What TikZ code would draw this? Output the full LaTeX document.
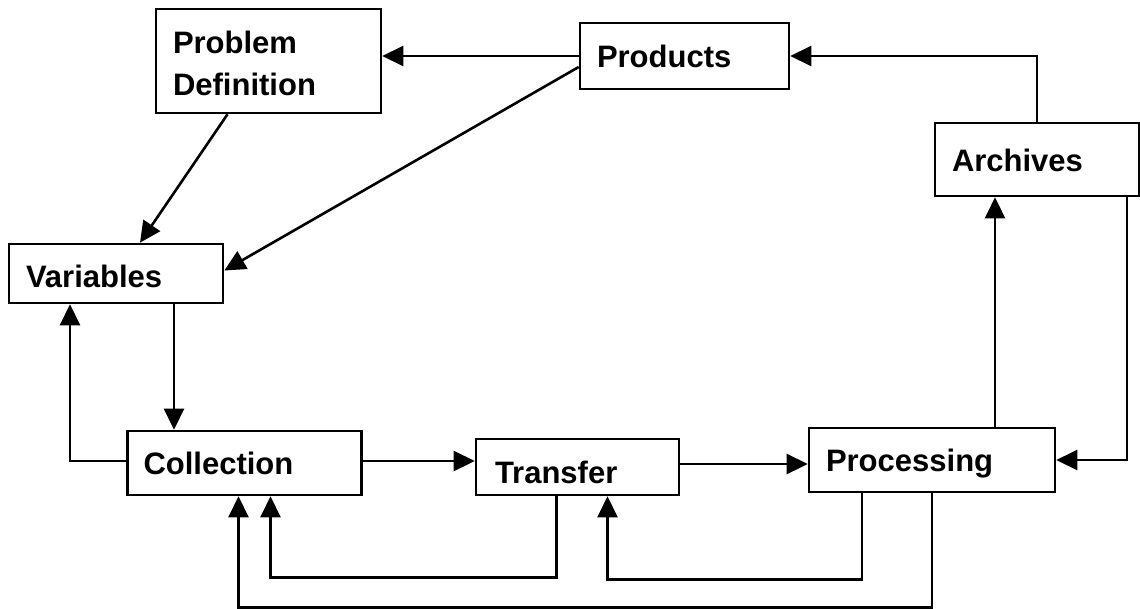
\documentclass[tikz,border=0pt]{standalone}
\usepackage{fontspec}
\setmainfont{Liberation Sans}
\usetikzlibrary{arrows.meta}

\begin{document}
\begin{tikzpicture}[x=1pt,y=-1pt,line width=2.6pt,
    box/.style={draw,rectangle,align=left,inner xsep=17pt,inner ysep=0pt,
        text height=23pt,text depth=0pt,font=\fontsize{31}{42}\selectfont\bfseries},
    flow/.style={-{Triangle[length=21pt,width=20pt]}}]
    \useasboundingbox (0,0) rectangle (1140,608);

    \begin{scope}[every node/.style={box}]
        \node (pd)[text width=191pt,minimum height=104pt,text depth=39pt] at (268.5,61) {Problem\\Definition};
        \node (prod)[text width=175pt,minimum height=66pt] at (684.5,56) {Products};
        \node (arch)[text width=170pt,minimum height=73pt] at (1037,159.5) {Archives};
        \node (var)[text width=180pt,minimum height=59pt,text height=27pt] at (116,273.5) {Variables};
        \node (coll)[text width=202pt,minimum height=64pt,inner xsep=16pt] at (244.5,463) {Collection};
        \node (tran)[text width=165pt,minimum height=56pt,inner xsep=19pt,text height=32pt] at (577.5,467) {Transfer};
        \node (proc)[text width=212pt,minimum height=64pt] at (932,460) {Processing};
    \end{scope}

    \begin{scope}
        \draw [flow] (prod.west) -- (prod.west -| pd.east);
        \draw [flow] (arch.north) |- (prod.east);
        \draw [flow] ([xshift=-41pt]pd.south) -- ([xshift=24pt]var.north);
        \draw [flow] ([yshift=-11pt]prod.west) -- ([yshift=3pt]var.east);
        \draw [flow] ([xshift=58pt]var.south) -- ([xshift=58pt]var.south |- coll.north);
        \draw [flow] ([yshift=2pt]coll.west) -| ([xshift=-46pt]var.south);
        \draw [flow] ([yshift=2pt]coll.east) -- ([yshift=2pt]coll.east -| tran.west);
        \draw [flow] ([yshift=3pt]tran.east) -- ([yshift=3pt]tran.east -| proc.west);
        \draw [flow] ([xshift=90pt]arch.south) |- (proc.east);
        \draw [flow] ([xshift=63pt]proc.north) -- ([xshift=63pt]proc.north |- arch.south);
        \draw [flow] ([xshift=-21pt]tran.south) -- ++(0,-81pt) -| ([xshift=26pt]coll.south);
        \draw [flow] ([xshift=-70pt]proc.south) -- ++(0,-86pt) -| ([xshift=30pt]tran.south);
        \draw [flow] (proc.south) -- ++(0,-114pt) -| ([xshift=-6pt]coll.south);
    \end{scope}
\end{tikzpicture}
\end{document}
